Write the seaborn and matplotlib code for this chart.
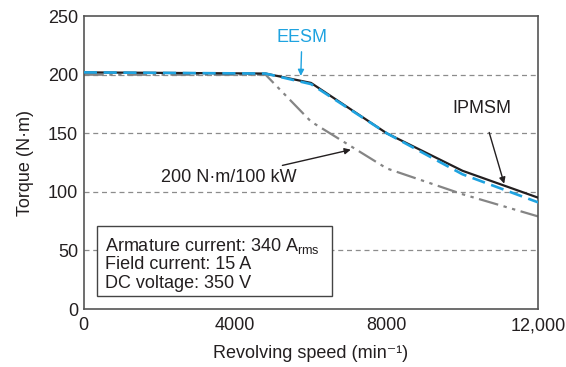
import matplotlib
matplotlib.use("Agg")
import matplotlib.pyplot as plt
from matplotlib.patches import Rectangle
import seaborn as sns

# Torque-speed characteristics
speed_ipmsm = [0, 4800, 6000, 8000, 10000, 12000]
torque_ipmsm = [202, 201, 193, 150, 118, 95]

speed_eesm = [0, 4800, 6000, 8000, 10000, 12000]
torque_eesm = [202, 201, 192, 150, 115, 91]

speed_ref = [0, 4800, 6000, 8000, 10000, 12000]
torque_ref = [200, 200, 160, 120, 98, 79]

x_ticks = [0, 4000, 8000, 12000]
x_tick_labels = ["0", "4000", "8000", "12,000"]
y_ticks = [0, 50, 100, 150, 200, 250]

condition_lines = ["Armature current: 340 A$_{\\mathregular{rms}}$",
                   "Field current: 15 A",
                   "DC voltage: 350 V"]

sns.set_theme(style="white")
plt.rcParams["font.family"] = ["Liberation Sans", "DejaVu Sans"]
plt.rcParams["mathtext.fontset"] = "custom"
plt.rcParams["mathtext.rm"] = "Liberation Sans"

fig, ax = plt.subplots(figsize=(5.66, 3.67), dpi=100)
fig.subplots_adjust(left=0.148, right=0.951, top=0.956, bottom=0.158)

black = "#231f20"
blue = "#1fa3e0"
gray = "#858585"
fs = 13

for y in [50, 100, 150, 200]:
    ax.axhline(y, color="#8c8c8c", lw=0.9, ls=(0, (4, 3)), zorder=0)

sns.lineplot(x=speed_ref, y=torque_ref, ax=ax, color=gray, lw=1.6,
             linestyle=(0, (9, 2.5, 1.5, 2.5, 1.5, 2.5)), zorder=2)
sns.lineplot(x=speed_ipmsm, y=torque_ipmsm, ax=ax, color=black, lw=1.6, zorder=3)
sns.lineplot(x=speed_eesm, y=torque_eesm, ax=ax, color=blue, lw=1.9,
             linestyle=(0, (5, 2.5)), zorder=4)

ax.set_xlim(0, 12000)
ax.set_ylim(0, 250)
ax.set_xticks(x_ticks)
ax.set_xticklabels(x_tick_labels)
ax.set_yticks(y_ticks)
ax.tick_params(axis="x", direction="in", length=6, width=1, color="#444444",
               labelsize=fs, pad=6, labelcolor=black)
ax.tick_params(axis="y", length=0, labelsize=fs, pad=4, labelcolor=black)
for s in ax.spines.values():
    s.set_color("#555555")
    s.set_linewidth(1.2)

ax.set_xlabel("Revolving speed (min\u207b\u00b9)", fontsize=fs, color=black, labelpad=8)
ax.set_ylabel("Torque (N\u00b7m)", fontsize=fs, color=black, labelpad=10)

# Curve labels
ax.annotate("EESM", xy=(5730, 199), xytext=(5760, 232), color=blue, fontsize=fs,
            ha="center", va="center",
            arrowprops=dict(arrowstyle="-|>", color=blue, lw=1, mutation_scale=9,
                            shrinkA=2, shrinkB=0))
ax.annotate("IPMSM", xy=(11100, 107), xytext=(10520, 171), color=black, fontsize=fs,
            ha="center", va="center",
            arrowprops=dict(arrowstyle="-|>", color=black, lw=1, mutation_scale=9,
                            shrinkA=9, shrinkB=0))
ax.annotate("200 N\u00b7m/100 kW", xy=(7050, 136), xytext=(3820, 112), color=black,
            fontsize=fs, ha="center", va="center",
            arrowprops=dict(arrowstyle="-|>", color=black, lw=1, mutation_scale=9,
                            shrinkA=2, shrinkB=0))

# Operating conditions box
ax.add_patch(Rectangle((344, 11), 6210, 59.8, fc="white", ec="#444444", lw=1, zorder=5))
for i, line in enumerate(condition_lines):
    ax.text(560, 56.3 - 16.2 * i, line, fontsize=fs, color=black,
            va="center_baseline", ha="left", zorder=6)

fig.savefig("out.png", dpi=100)
